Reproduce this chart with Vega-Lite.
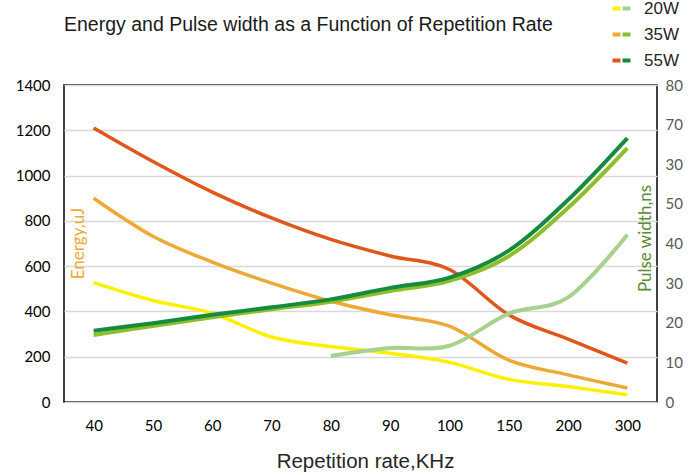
{
  "$schema": "https://vega.github.io/schema/vega-lite/v6.json",
  "width": 593,
  "height": 317,
  "autosize": {"type": "none"},
  "padding": {"left": 64, "top": 85, "right": 39, "bottom": 73},
  "background": "white",
  "title": {
    "text": "Energy and Pulse width as a Function of Repetition Rate",
    "anchor": "start",
    "frame": "group",
    "offset": -35,
    "font": "Liberation Sans",
    "fontSize": 19.5,
    "fontWeight": "normal",
    "color": "#1a1a1a"
  },
  "config": {
    "view": {"stroke": "#000000", "strokeWidth": 1.5}
  },
  "data": {
    "values": [
      {"rate": 40, "power": "20W", "energy": 527, "pulse": null},
      {"rate": 50, "power": "20W", "energy": 448, "pulse": null},
      {"rate": 60, "power": "20W", "energy": 392, "pulse": null},
      {"rate": 70, "power": "20W", "energy": 287, "pulse": null},
      {"rate": 80, "power": "20W", "energy": 245, "pulse": 11.6},
      {"rate": 90, "power": "20W", "energy": 215, "pulse": 13.6},
      {"rate": 100, "power": "20W", "energy": 175, "pulse": 14.2},
      {"rate": 150, "power": "20W", "energy": 100, "pulse": 22.3},
      {"rate": 200, "power": "20W", "energy": 68, "pulse": 26.4},
      {"rate": 300, "power": "20W", "energy": 32, "pulse": 42.2},
      {"rate": 40, "power": "35W", "energy": 900, "pulse": 16.9},
      {"rate": 50, "power": "35W", "energy": 732, "pulse": 19.2},
      {"rate": 60, "power": "35W", "energy": 618, "pulse": 21.4},
      {"rate": 70, "power": "35W", "energy": 525, "pulse": 23.4},
      {"rate": 80, "power": "35W", "energy": 445, "pulse": 25.3},
      {"rate": 90, "power": "35W", "energy": 385, "pulse": 28.0},
      {"rate": 100, "power": "35W", "energy": 335, "pulse": 30.6},
      {"rate": 150, "power": "35W", "energy": 185, "pulse": 36.8},
      {"rate": 200, "power": "35W", "energy": 120, "pulse": 49.0},
      {"rate": 300, "power": "35W", "energy": 62, "pulse": 64.1},
      {"rate": 40, "power": "55W", "energy": 1210, "pulse": 18.0},
      {"rate": 50, "power": "55W", "energy": 1062, "pulse": 19.9},
      {"rate": 60, "power": "55W", "energy": 927, "pulse": 22.0},
      {"rate": 70, "power": "55W", "energy": 813, "pulse": 23.9},
      {"rate": 80, "power": "55W", "energy": 718, "pulse": 25.9},
      {"rate": 90, "power": "55W", "energy": 645, "pulse": 28.8},
      {"rate": 100, "power": "55W", "energy": 585, "pulse": 31.4},
      {"rate": 150, "power": "55W", "energy": 385, "pulse": 38.2},
      {"rate": 200, "power": "55W", "energy": 278, "pulse": 51.0},
      {"rate": 300, "power": "55W", "energy": 172, "pulse": 66.6}
    ]
  },
  "encoding": {
    "x": {
      "field": "rate",
      "type": "ordinal",
      "sort": "ascending",
      "scale": {"type": "point", "padding": 0.5},
      "axis": {
        "title": "Repetition rate,KHz",
        "titleFont": "Liberation Sans",
        "titleFontSize": 20.5,
        "titleFontWeight": "normal",
        "titleColor": "#262626",
        "titlePadding": 18,
        "titleX": 301,
        "labelAngle": 0,
        "labelFont": "Lato",
        "labelFontSize": 15,
        "labelColor": "#000000",
        "labelPadding": 16,
        "ticks": false,
        "domain": false,
        "grid": false
      }
    }
  },
  "layer": [
    {
      "mark": {"type": "line", "interpolate": "cardinal", "strokeWidth": 3.5},
      "encoding": {
        "y": {
          "field": "energy",
          "type": "quantitative",
          "scale": {"domain": [0, 1400]},
          "axis": {
            "orient": "left",
            "values": [0, 200, 400, 600, 800, 1000, 1200, 1400],
            "format": "d",
            "title": "Energy,uJ",
            "titleColor": "#EDA934",
            "titleFont": "Lato",
            "titleFontSize": 17,
            "titleFontWeight": "normal",
            "titleX": 14,
            "titleY": 158,
            "titleAngle": 270,
            "titleAlign": "center",
            "titleBaseline": "middle",
            "grid": true,
            "gridColor": "#D9D9D9",
            "gridWidth": 1.5,
            "ticks": false,
            "domain": false,
            "labelFont": "Lato",
            "labelFontSize": 15,
            "labelColor": "#000000",
            "labelPadding": 14
          }
        },
        "color": {
          "field": "power",
          "type": "nominal",
          "scale": {"domain": ["20W", "35W", "55W"], "range": ["#FFF000", "#EDA934", "#E0561B"]},
          "legend": {
            "orient": "none",
            "legendX": 544,
            "legendY": -85,
            "title": null,
            "padding": 0,
            "symbolType": "stroke",
            "symbolSize": 64,
            "symbolStrokeWidth": 4,
            "labelExpr": "''",
            "labelFont": "Liberation Sans",
            "labelFontSize": 17,
            "rowPadding": 8
          }
        }
      }
    },
    {
      "mark": {"type": "line", "interpolate": "cardinal", "strokeWidth": 4},
      "encoding": {
        "y": {
          "field": "pulse",
          "type": "quantitative",
          "scale": {"domain": [0, 80]},
          "axis": {
            "orient": "right",
            "values": [0, 10, 20, 30, 40, 50, 60, 70, 80],
            "labelExpr": "datum.value == 60 ? '30' : datum.label",
            "title": "Pulse width,ns",
            "titleColor": "#5A8A32",
            "titleFont": "Lato",
            "titleFontSize": 17,
            "titleFontWeight": "normal",
            "titleX": -12,
            "titleY": 153,
            "titleAngle": 270,
            "titleAlign": "center",
            "titleBaseline": "middle",
            "grid": false,
            "ticks": false,
            "domain": false,
            "labelFont": "Lato",
            "labelFontSize": 15,
            "labelColor": "#595959",
            "labelPadding": 8
          }
        },
        "color": {
          "field": "power",
          "type": "nominal",
          "scale": {"domain": ["20W", "35W", "55W"], "range": ["#A9D18E", "#8CBF2A", "#168A3E"]},
          "legend": {
            "orient": "none",
            "legendX": 554,
            "legendY": -85,
            "title": null,
            "padding": 0,
            "symbolType": "stroke",
            "symbolSize": 64,
            "symbolStrokeWidth": 4,
            "labelFont": "Liberation Sans",
            "labelFontSize": 17,
            "labelColor": "#262626",
            "labelOffset": 9,
            "rowPadding": 8
          }
        }
      }
    }
  ],
  "resolve": {"scale": {"y": "independent", "color": "independent"}}
}
